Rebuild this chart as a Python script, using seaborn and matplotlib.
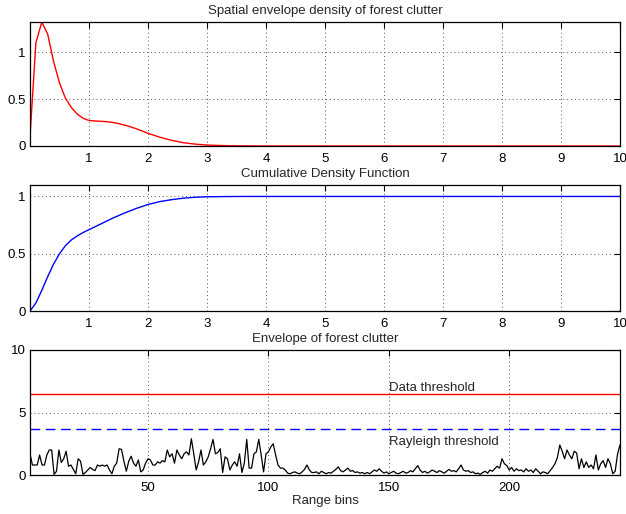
import numpy as np
import pandas as pd
import matplotlib
matplotlib.use("Agg")
import matplotlib.pyplot as plt
import seaborn as sns

# ---------------- data ----------------
density_x = [0.0, 0.1, 0.2, 0.3, 0.4, 0.5, 0.6, 0.7, 0.8, 0.9, 1.0, 1.1, 1.2, 1.3, 1.4,
             1.5, 1.6, 1.7, 1.8, 1.9, 2.0, 2.2, 2.4, 2.6, 2.8, 3.0, 3.3, 3.6, 4.0, 10.0]
density_y = [0.10, 1.10, 1.32, 1.19, 0.90, 0.67, 0.51, 0.41, 0.34, 0.295, 0.272, 0.266,
             0.263, 0.259, 0.251, 0.239, 0.223, 0.205, 0.184, 0.16, 0.135, 0.094, 0.06,
             0.035, 0.02, 0.01, 0.004, 0.001, 0.0, 0.0]

cdf_x = [0.0, 0.1, 0.2, 0.3, 0.4, 0.5, 0.6, 0.7, 0.8, 0.9, 1.0, 1.2, 1.4, 1.6, 1.8, 2.0,
         2.2, 2.4, 2.6, 2.8, 3.0, 3.3, 3.6, 4.0, 10.0]
cdf_y = [0.0, 0.07, 0.18, 0.30, 0.41, 0.50, 0.57, 0.62, 0.655, 0.685, 0.71, 0.76, 0.81,
         0.855, 0.895, 0.93, 0.955, 0.972, 0.985, 0.993, 0.997, 0.999, 1.0, 1.0, 1.0]

envelope = [
    1.7, 0.8, 0.8, 0.8, 1.6, 0.8, 0.8, 1.6, 2.0, 2.0,
    0.05, 0.3, 2.0, 1.0, 1.3, 1.9, 0.7, 0.8, 0.45, 0.1,
    1.3, 1.1, 0.05, 0.2, 0.4, 0.6, 0.45, 0.35, 0.8, 0.7,
    0.8, 0.7, 0.8, 0.4, 0.1, 0.7, 0.95, 2.1, 2.05, 1.1,
    0.3, 1.1, 1.5, 0.95, 0.7, 1.2, 0.25, 0.4, 0.95, 1.3,
    1.2, 0.8, 0.8, 1.05, 0.95, 1.15, 1.05, 2.0, 1.45, 1.7,
    0.95, 2.0, 1.6, 1.3, 1.7, 1.85, 1.6, 2.9, 1.7, 0.4,
    1.05, 2.0, 0.8, 1.05, 1.45, 2.1, 2.85, 1.7, 1.8, 2.1,
    0.2, 1.45, 1.3, 0.4, 0.8, 1.05, 0.7, 1.7, 0.2, 0.95,
    2.85, 0.55, 0.55, 1.7, 1.85, 2.85, 1.6, 0.25, 1.7, 1.85,
    2.25, 2.5, 1.6, 0.8, 0.55, 0.55, 0.4, 0.15, 0.1, 0.2,
    0.25, 0.15, 0.1, 0.25, 0.45, 0.8, 0.4, 0.2, 0.2, 0.25,
    0.1, 0.3, 0.2, 0.1, 0.2, 0.15, 0.3, 0.45, 0.65, 0.35,
    0.25, 0.4, 0.55, 0.3, 0.35, 0.2, 0.25, 0.15, 0.2, 0.1,
    0.2, 0.1, 0.25, 0.4, 0.3, 0.5, 0.3, 0.15, 0.25, 0.1,
    0.2, 0.3, 0.15, 0.1, 0.2, 0.3, 0.15, 0.2, 0.35, 0.25,
    0.5, 0.75, 0.4, 0.2, 0.3, 0.15, 0.25, 0.4, 0.3, 0.2,
    0.35, 0.25, 0.15, 0.3, 0.45, 0.3, 0.35, 0.25, 0.5, 0.8,
    0.4, 0.3, 0.35, 0.2, 0.25, 0.1, 0.15, 0.05, 0.2, 0.3,
    0.15, 0.4, 0.3, 0.5, 0.7, 0.55, 1.3, 0.9, 0.75, 0.4,
    0.6, 0.3, 0.5, 0.35, 0.4, 0.25, 0.5, 0.3, 0.4, 0.2,
    0.5, 0.3, 0.1, 0.25, 0.2, 0.1, 0.35, 0.6, 0.9, 1.4,
    2.4, 1.9, 1.3, 2.0, 1.6, 1.3, 1.9, 1.75, 0.5, 1.3,
    0.6, 1.05, 0.6, 0.8, 0.5, 1.6, 0.4, 0.9, 1.15, 0.6,
    1.3, 0.9, 0.1, 0.3, 1.7, 2.4,
]
range_bins = list(range(1, len(envelope) + 1))

data_threshold = 6.45
rayleigh_threshold = 3.72

titles = ["Spatial envelope density of forest clutter",
          "Cumulative Density Function",
          "Envelope of forest clutter"]
xlabel_bottom = "Range bins"

# ---------------- style ----------------
sns.set_style("white")
plt.rcParams["font.family"] = ["Liberation Sans", "DejaVu Sans"]
FS = 9.5
plt.rcParams["font.size"] = FS

fig = plt.figure(figsize=(6.26, 5.14), dpi=100)
W, H = 626, 514
def place(l, t, r, b):
    return fig.add_axes([l / W, 1 - b / H, (r - l) / W, (b - t) / H])

ax1 = place(30, 22, 620, 146)
ax2 = place(30, 185, 620, 311)
ax3 = place(30, 350, 620, 475)

df1 = pd.DataFrame({"x": density_x, "y": density_y})
df2 = pd.DataFrame({"x": cdf_x, "y": cdf_y})
df3 = pd.DataFrame({"bin": range_bins, "env": envelope})

sns.lineplot(data=df1, x="x", y="y", ax=ax1, color="#ff0000", lw=1.0, errorbar=None)
sns.lineplot(data=df2, x="x", y="y", ax=ax2, color="#0000ff", lw=1.0, errorbar=None)
sns.lineplot(data=df3, x="bin", y="env", ax=ax3, color="black", lw=0.9, errorbar=None)
ax3.axhline(data_threshold, color="#ff0000", lw=1.0)
ax3.axhline(rayleigh_threshold, color="#0000ff", lw=1.0, dashes=(7, 4))
ax3.text(150, 6.95, "Data threshold", va="center", ha="left", fontsize=FS)
ax3.text(150, 2.65, "Rayleigh threshold", va="center", ha="left", fontsize=FS)

ax1.set_xlim(0, 10); ax1.set_ylim(0, 1.32)
ax1.set_xticks(range(1, 11)); ax1.set_yticks([0, 0.5, 1])
ax1.set_yticklabels(["0", "0.5", "1"])
ax2.set_xlim(0, 10); ax2.set_ylim(0, 1.1)
ax2.set_xticks(range(1, 11)); ax2.set_yticks([0, 0.5, 1])
ax2.set_yticklabels(["0", "0.5", "1"])
ax3.set_xlim(1, len(envelope)); ax3.set_ylim(0, 10)
ax3.set_xticks([50, 100, 150, 200]); ax3.set_yticks([0, 5, 10])

for ax, t in zip([ax1, ax2, ax3], titles):
    ax.set_title(t, fontsize=FS, pad=6)
    ax.set_xlabel(""); ax.set_ylabel("")
    ax.grid(True, linestyle=(0, (1, 3)), color="#555555", lw=0.7)
    ax.tick_params(direction="in", top=True, right=True, length=4, width=0.8,
                   labelsize=FS, colors="black")
    ax.tick_params(axis="x", pad=5)
    ax.tick_params(axis="y", pad=3)
    for s in ax.spines.values():
        s.set_color("black"); s.set_linewidth(0.9); s.set_visible(True)
ax3.set_xlabel(xlabel_bottom, fontsize=FS, labelpad=1)

fig.savefig("out.png", dpi=100)
